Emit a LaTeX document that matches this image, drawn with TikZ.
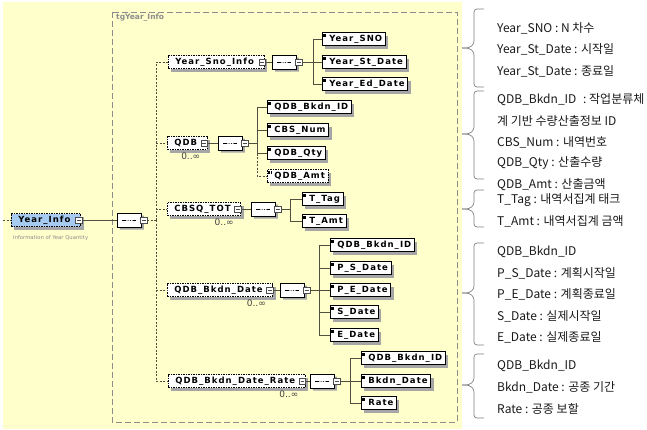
\documentclass[tikz,border=0pt]{standalone}
\usepackage{fontspec}
\setmainfont{DejaVu Sans}
\newfontfamily\xsdfont[LetterSpace=12]{DejaVu Sans}
\newfontfamily\krfont{Noto Sans CJK KR}
\usetikzlibrary{shapes.misc,shadows}

\definecolor{bgyellow}{RGB}{255,255,204}
\definecolor{rootblue}{RGB}{166,202,240}
\definecolor{busgray}{RGB}{80,80,64}

\tikzset{
  xsd/.style={font=\xsdfont\bfseries\fontsize{8.5}{10}\selectfont, anchor=west,
    minimum height=13pt, inner ysep=0pt, inner xsep=3pt, text height=6.5pt, text depth=1.8pt,
    fill=white, drop shadow={shadow xshift=3pt, shadow yshift=-3pt, fill=black!35, opacity=1}},
  elem/.style={xsd, draw=black, line width=0.6pt, execute at begin node={\hspace{4pt}},
    path picture={
      \foreach \d in {1.2,2.4,3.6}
        \draw[line width=0.4pt] ([xshift=1pt,yshift=-\d*1pt]path picture bounding box.north west) -- ++(3pt,0);}},
  optelem/.style={elem, dash pattern=on 1.5pt off 1pt},
  ctype/.style={xsd, draw=black, line width=0.6pt, dash pattern=on 1.5pt off 1pt,
    execute at begin node={\hspace{4pt}}, execute at end node={\hspace{7pt}}},
  root/.style={ctype, fill=rootblue},
  minus/.style={draw=black!70, fill=white, line width=0.5pt, minimum size=6.5pt, inner sep=0pt,
    path picture={\draw[line width=0.6pt] ([xshift=1.3pt]path picture bounding box.west) -- ([xshift=-1.3pt]path picture bounding box.east);}},
  seq/.style={chamfered rectangle, chamfered rectangle xsep=4pt, draw=black, line width=0.6pt, fill=white,
    anchor=west, minimum width=24pt, minimum height=14pt, inner sep=0pt,
    drop shadow={shadow xshift=2.5pt, shadow yshift=-2.5pt, fill=black!35, opacity=1},
    path picture={
      \draw[line width=0.6pt] ([xshift=-7pt]path picture bounding box.center) -- ([xshift=7pt]path picture bounding box.center);
      \foreach \d in {-2.4,0,2.4}
        \fill ([xshift=\d*1pt]path picture bounding box.center) circle (1.1pt);}},
  link/.style={busgray, line width=0.7pt},
  opt/.style={link, dash pattern=on 2pt off 1.5pt},
  occurs/.style={anchor=north east, font=\fontsize{9}{10}\selectfont, text=black!75, inner sep=0pt},
  grouplabel/.style={anchor=west, font=\bfseries\fontsize{7.5}{9}\selectfont, text=black!45, inner sep=0pt},
  annot/.style={anchor=west, font=\fontsize{5.3}{6}\selectfont, text=black!45, inner sep=0pt},
  note/.style={anchor=west, font=\krfont\fontsize{12}{14}\selectfont, text=black!90, inner sep=0pt},
  bracket/.style={black!50, line width=0.7pt, rounded corners=3pt}
}

\newcommand\notebrace[3]{
  \draw[bracket] (484,#1) -- (474,#1) -- (474,#2-4) -- (469,#2) -- (462,#2);
  \draw[bracket] (484,#3) -- (474,#3) -- (474,#2+4) -- (469,#2) -- (462,#2);
}

\begin{document}
\begin{tikzpicture}[x=1pt,y=-1pt]
\useasboundingbox (0,0) rectangle (647,429);
\fill[bgyellow] (3,2) rectangle (462,429);
\draw[black!45, line width=0.6pt, dash pattern=on 6pt off 3pt] (112,12) rectangle (457,422);
\node[grouplabel] at (116,18) (tg) {tgYear\_Info};

\node[root] at (11,220) (yi) {Year\_Info};
\node[minus] at ([xshift=-2pt]yi.east) (yim) {};
\node[annot] at (13,238) (yid) {Information of Year Quantity};
\coordinate (lead) at (3,220);
\node[seq] at (117,220) (s0) {};
\node[minus] at ([xshift=2pt]s0.east) (s0m) {};
\coordinate (trunk) at (156,220);

\draw[opt] (lead) -- (yi);
\draw[link] (yim) -- (s0);
\draw[opt] (s0m) -- (trunk);

\node[ctype] at (168,62) (c1) {Year\_Sno\_Info};
\node[minus] at ([xshift=-2pt]c1.east) (c1m) {};
\node[seq] at (272,62) (s1) {};
\node[minus] at ([xshift=2pt]s1.east) (s1m) {};
\coordinate (b1) at (313,62);
\node[elem] at (322,39) (e11) {Year\_SNO};
\node[elem] at (322,62) (e12) {Year\_St\_Date};
\node[elem] at (322,84) (e13) {Year\_Ed\_Date};

\node[ctype] at (167,143) (c2) {QDB};
\node[minus] at ([xshift=-3pt]c2.east) (c2m) {};
\node[occurs] at ([xshift=-7pt,yshift=-3pt]c2.south east) (o2) {0..∞};
\node[seq] at (218,143) (s2) {};
\node[minus] at ([xshift=2pt]s2.east) (s2m) {};
\coordinate (b2) at (257,143);
\node[elem] at (267,107) (e21) {QDB\_Bkdn\_ID};
\node[elem] at (267,130) (e22) {CBS\_Num};
\node[elem] at (267,153) (e23) {QDB\_Qty};
\node[optelem] at (267,176) (e24) {QDB\_Amt};

\node[ctype] at (167,209) (c3) {CBSQ\_TOT};
\node[minus] at ([xshift=-3pt]c3.east) (c3m) {};
\node[occurs] at ([xshift=-7pt,yshift=-3pt]c3.south east) (o3) {0..∞};
\node[seq] at (251,209) (s3) {};
\node[minus] at ([xshift=2pt]s3.east) (s3m) {};
\coordinate (b3) at (290,209);
\node[elem] at (302,199) (e31) {T\_Tag};
\node[elem] at (302,221) (e32) {T\_Amt};

\node[ctype] at (167,290) (c4) {QDB\_Bkdn\_Date};
\node[minus] at ([xshift=-3pt]c4.east) (c4m) {};
\node[occurs] at ([xshift=-7pt,yshift=-3pt]c4.south east) (o4) {0..∞};
\node[seq] at (280,290) (s4) {};
\node[minus] at ([xshift=2pt]s4.east) (s4m) {};
\coordinate (b4) at (319,290);
\node[elem] at (330,245) (e41) {QDB\_Bkdn\_ID};
\node[elem] at (330,268) (e42) {P\_S\_Date};
\node[elem] at (330,290) (e43) {P\_E\_Date};
\node[elem] at (330,312) (e44) {S\_Date};
\node[elem] at (330,335) (e45) {E\_Date};

\node[ctype] at (168,381) (c5) {QDB\_Bkdn\_Date\_Rate};
\node[minus] at ([xshift=-3pt]c5.east) (c5m) {};
\node[occurs] at ([xshift=-7pt,yshift=-3pt]c5.south east) (o5) {0..∞};
\node[seq] at (310,381) (s5) {};
\node[minus] at ([xshift=2pt]s5.east) (s5m) {};
\coordinate (b5) at (350,381);
\node[elem] at (361,358) (e51) {QDB\_Bkdn\_ID};
\node[elem] at (361,381) (e52) {Bkdn\_Date};
\node[elem] at (361,403) (e53) {Rate};

\draw[opt] (trunk) |- (c1);
\draw[opt] (trunk) |- (c2);
\draw[opt] (trunk) |- (c3);
\draw[opt] (trunk) |- (c4);
\draw[opt] (trunk) |- (c5);

\draw[link] (c1m) -- (s1);
\draw[link] (s1m) -- (b1);
\draw[link] (b1) |- (e11);
\draw[link] (b1) -- (e12);
\draw[link] (b1) |- (e13);

\draw[link] (c2m) -- (s2);
\draw[link] (s2m) -- (b2);
\draw[link] (b2) |- (e21);
\draw[link] (b2) |- (e22);
\draw[link] (b2) |- (e23);
\draw[opt] (b2) |- (e24);

\draw[link] (c3m) -- (s3);
\draw[link] (s3m) -- (b3);
\draw[link] (b3) |- (e31);
\draw[link] (b3) |- (e32);

\draw[link] (c4m) -- (s4);
\draw[link] (s4m) -- (b4);
\draw[link] (b4) |- (e41);
\draw[link] (b4) |- (e42);
\draw[link] (b4) -- (e43);
\draw[link] (b4) |- (e44);
\draw[link] (b4) |- (e45);

\draw[link] (c5m) -- (s5);
\draw[link] (s5m) -- (b5);
\draw[link] (b5) |- (e51);
\draw[link] (b5) -- (e52);
\draw[link] (b5) |- (e53);

\notebrace{9}{48}{87}
\notebrace{91}{134}{179}
\notebrace{190}{209}{227}
\notebrace{243}{293}{345}
\notebrace{354}{385}{418}

\node[note] at (497,28) (n1) {Year\_SNO : N 차수};
\node[note] at (497,49) (n2) {Year\_St\_Date : 시작일};
\node[note] at (497,71) (n3) {Year\_St\_Date : 종료일};
\node[note] at (497,100) (n4) {QDB\_Bkdn\_ID\hspace{4pt} : 작업분류체};
\node[note] at (497,121) (n5) {계 기반 수량산출정보 ID};
\node[note] at (497,142) (n6) {CBS\_Num : 내역번호};
\node[note] at (497,163) (n7) {QDB\_Qty : 산출수량};
\node[note] at (497,185) (n8) {QDB\_Amt : 산출금액};
\node[note] at (497,200) (n9) {T\_Tag : 내역서집계 태크};
\node[note] at (497,221) (n10) {T\_Amt : 내역서집계 금액};
\node[note] at (497,252) (n11) {QDB\_Bkdn\_ID};
\node[note] at (497,273) (n12) {P\_S\_Date : 계획시작일};
\node[note] at (497,294) (n13) {P\_E\_Date : 계획종료일};
\node[note] at (497,316) (n14) {S\_Date : 실제시작일};
\node[note] at (497,337) (n15) {E\_Date : 실제종료일};
\node[note] at (497,366) (n16) {QDB\_Bkdn\_ID};
\node[note] at (497,387) (n17) {Bkdn\_Date : 공종 기간};
\node[note] at (497,409) (n18) {Rate : 공종 보할};
\end{tikzpicture}
\end{document}
